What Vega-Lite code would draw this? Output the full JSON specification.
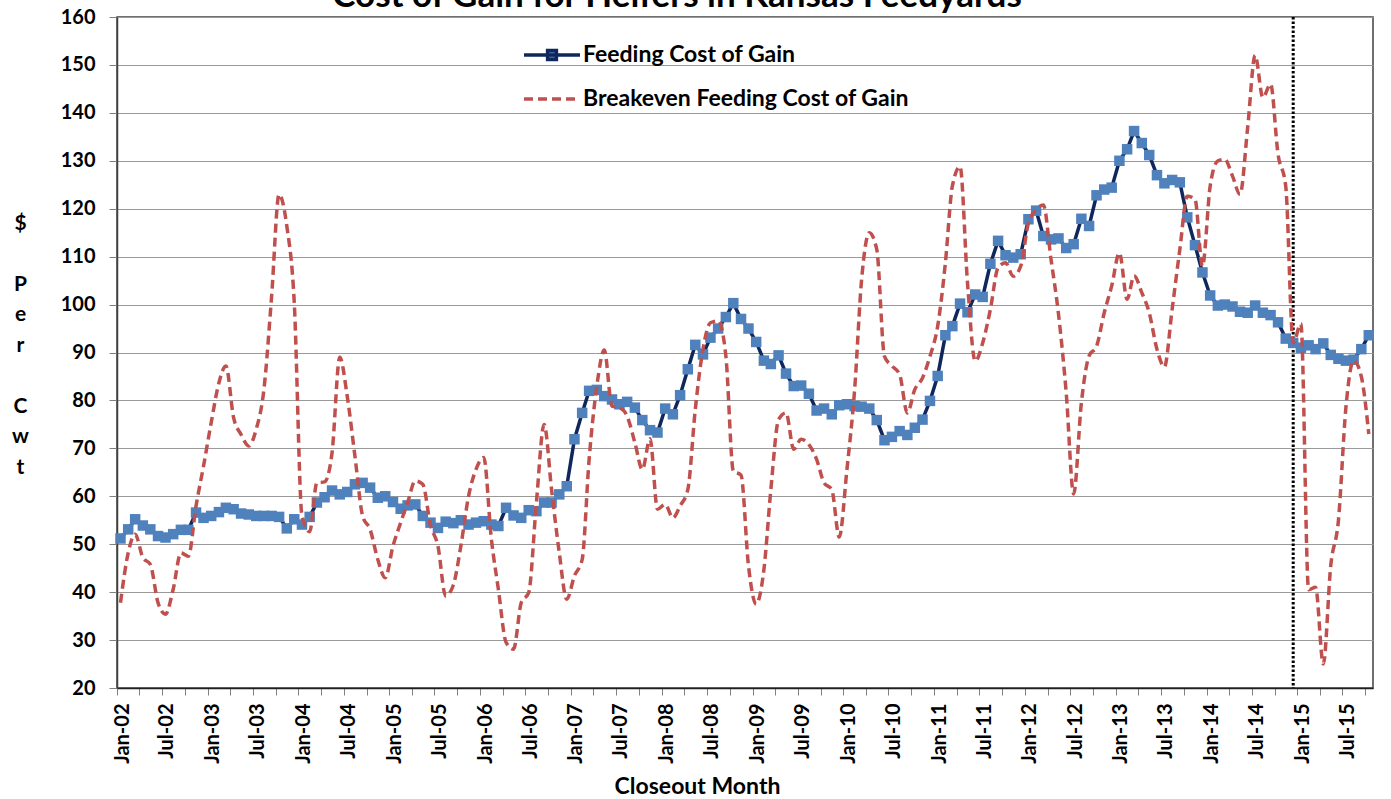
{
"$schema": "https://vega.github.io/schema/vega-lite/v6.json",
"width": 1256, "height": 671,
"autosize": {"type": "none"},
"padding": {"left": 117, "top": 17, "right": 18, "bottom": 111},
"background": "white",
"config": {"view": {"stroke": "#404040", "strokeWidth": 1.5}, "font": "Lato"},
"title": {"text": "Cost of Gain for Heifers in Kansas Feedyards", "font": "Lato", "fontSize": 35, "fontWeight": "bold", "color": "black", "anchor": "middle", "frame": "group", "dx": -68, "dy": 9, "offset": 2},
"data": {"values": [
{"d":"2002-01-15","f":51.2,"b":37.8},{"d":"2002-02-15","f":53.1,"b":48.2},{"d":"2002-03-15","f":55.2,"b":52.1},{"d":"2002-04-15","f":53.9,"b":47.2},{"d":"2002-05-15","f":53.1,"b":45.8},{"d":"2002-06-15","f":51.7,"b":37.8},{"d":"2002-07-15","f":51.4,"b":35.4},{"d":"2002-08-15","f":52.1,"b":40.6},{"d":"2002-09-15","f":53.0,"b":48.2},{"d":"2002-10-15","f":53.0,"b":47.5},{"d":"2002-11-15","f":56.6,"b":58.0},{"d":"2002-12-15","f":55.5,"b":66.3},
{"d":"2003-01-15","f":55.9,"b":75.4},{"d":"2003-02-15","f":56.7,"b":83.7},{"d":"2003-03-15","f":57.6,"b":87.2},{"d":"2003-04-15","f":57.3,"b":76.4},{"d":"2003-05-15","f":56.4,"b":72.9},{"d":"2003-06-15","f":56.2,"b":70.5},{"d":"2003-07-15","f":55.9,"b":74.0},{"d":"2003-08-15","f":55.9,"b":82.3},{"d":"2003-09-15","f":55.9,"b":101.8},{"d":"2003-10-15","f":55.7,"b":123.0},{"d":"2003-11-15","f":53.3,"b":116.4},{"d":"2003-12-15","f":55.2,"b":100.4},
{"d":"2004-01-15","f":54.1,"b":55.9},{"d":"2004-02-15","f":55.7,"b":52.6},{"d":"2004-03-15","f":58.7,"b":62.8},{"d":"2004-04-15","f":59.8,"b":63.0},{"d":"2004-05-15","f":61.2,"b":69.1},{"d":"2004-06-15","f":60.4,"b":89.0},{"d":"2004-07-15","f":60.9,"b":80.9},{"d":"2004-08-15","f":62.5,"b":68.4},{"d":"2004-09-15","f":62.8,"b":55.9},{"d":"2004-10-15","f":61.8,"b":53.1},{"d":"2004-11-15","f":59.7,"b":46.8},{"d":"2004-12-15","f":60.0,"b":43.0},
{"d":"2005-01-15","f":58.8,"b":49.6},{"d":"2005-02-15","f":57.4,"b":54.5},{"d":"2005-03-15","f":58.1,"b":58.7},{"d":"2005-04-15","f":58.3,"b":63.2},{"d":"2005-05-15","f":55.9,"b":62.5},{"d":"2005-06-15","f":54.5,"b":54.0},{"d":"2005-07-15","f":53.4,"b":49.6},{"d":"2005-08-15","f":54.7,"b":39.2},{"d":"2005-09-15","f":54.4,"b":41.5},{"d":"2005-10-15","f":55.0,"b":49.6},{"d":"2005-11-15","f":54.1,"b":60.0},{"d":"2005-12-15","f":54.5,"b":65.6},
{"d":"2006-01-15","f":54.8,"b":68.1},{"d":"2006-02-15","f":54.1,"b":51.0},{"d":"2006-03-15","f":53.8,"b":40.6},{"d":"2006-04-15","f":57.6,"b":29.5},{"d":"2006-05-15","f":56.0,"b":28.1},{"d":"2006-06-15","f":55.5,"b":37.8},{"d":"2006-07-15","f":57.1,"b":39.9},{"d":"2006-08-15","f":56.9,"b":58.7},{"d":"2006-09-15","f":58.7,"b":75.0},{"d":"2006-10-15","f":58.7,"b":61.4},{"d":"2006-11-15","f":60.4,"b":48.2},{"d":"2006-12-15","f":62.1,"b":38.5},
{"d":"2007-01-15","f":71.9,"b":43.4},{"d":"2007-02-15","f":77.4,"b":46.8},{"d":"2007-03-15","f":82.0,"b":67.7},{"d":"2007-04-15","f":82.2,"b":83.0},{"d":"2007-05-15","f":80.9,"b":90.5},{"d":"2007-06-15","f":80.2,"b":78.8},{"d":"2007-07-15","f":79.2,"b":78.5},{"d":"2007-08-15","f":79.7,"b":76.7},{"d":"2007-09-15","f":78.5,"b":71.2},{"d":"2007-10-15","f":75.9,"b":65.6},{"d":"2007-11-15","f":73.8,"b":72.0},{"d":"2007-12-15","f":73.3,"b":57.3},
{"d":"2008-01-15","f":78.3,"b":58.3},{"d":"2008-02-15","f":77.1,"b":55.5},{"d":"2008-03-15","f":81.1,"b":58.0},{"d":"2008-04-15","f":86.5,"b":61.4},{"d":"2008-05-15","f":91.6,"b":78.1},{"d":"2008-06-15","f":89.6,"b":90.7},{"d":"2008-07-15","f":93.1,"b":96.2},{"d":"2008-08-15","f":95.0,"b":96.6},{"d":"2008-09-15","f":97.4,"b":89.3},{"d":"2008-10-15","f":100.3,"b":65.3},{"d":"2008-11-15","f":97.0,"b":64.4},{"d":"2008-12-15","f":95.0,"b":45.5},
{"d":"2009-01-15","f":92.2,"b":37.5},{"d":"2009-02-15","f":88.3,"b":44.7},{"d":"2009-03-15","f":87.6,"b":61.4},{"d":"2009-04-15","f":89.4,"b":76.0},{"d":"2009-05-15","f":85.6,"b":77.4},{"d":"2009-06-15","f":83.0,"b":69.8},{"d":"2009-07-15","f":83.1,"b":71.9},{"d":"2009-08-15","f":81.4,"b":70.8},{"d":"2009-09-15","f":77.9,"b":67.7},{"d":"2009-10-15","f":78.3,"b":62.8},{"d":"2009-11-15","f":77.1,"b":61.4},{"d":"2009-12-15","f":79.0,"b":51.5},
{"d":"2010-01-15","f":79.2,"b":65.6},{"d":"2010-02-15","f":78.8,"b":82.3},{"d":"2010-03-15","f":78.7,"b":105.2},{"d":"2010-04-15","f":78.3,"b":115.0},{"d":"2010-05-15","f":75.9,"b":111.5},{"d":"2010-06-15","f":71.7,"b":89.2},{"d":"2010-07-15","f":72.4,"b":87.2},{"d":"2010-08-15","f":73.6,"b":85.4},{"d":"2010-09-15","f":72.8,"b":77.4},{"d":"2010-10-15","f":74.3,"b":82.3},{"d":"2010-11-15","f":76.0,"b":84.7},{"d":"2010-12-15","f":79.9,"b":89.2},
{"d":"2011-01-15","f":85.1,"b":95.5},{"d":"2011-02-15","f":93.6,"b":108.7},{"d":"2011-03-15","f":95.5,"b":124.7},{"d":"2011-04-15","f":100.2,"b":128.8},{"d":"2011-05-15","f":98.4,"b":104.5},{"d":"2011-06-15","f":102.1,"b":88.2},{"d":"2011-07-15","f":101.6,"b":92.0},{"d":"2011-08-15","f":108.5,"b":99.0},{"d":"2011-09-15","f":113.3,"b":107.7},{"d":"2011-10-15","f":110.3,"b":108.7},{"d":"2011-11-15","f":109.8,"b":105.9},{"d":"2011-12-15","f":110.5,"b":108.0},
{"d":"2012-01-15","f":117.8,"b":117.0},{"d":"2012-02-15","f":119.6,"b":119.8},{"d":"2012-03-15","f":114.3,"b":120.8},{"d":"2012-04-15","f":113.6,"b":109.4},{"d":"2012-05-15","f":113.8,"b":98.0},{"d":"2012-06-15","f":111.8,"b":81.6},{"d":"2012-07-15","f":112.6,"b":60.5},{"d":"2012-08-15","f":117.9,"b":79.5},{"d":"2012-09-15","f":116.4,"b":89.3},{"d":"2012-10-15","f":122.8,"b":91.3},{"d":"2012-11-15","f":124.0,"b":98.3},{"d":"2012-12-15","f":124.4,"b":103.9},
{"d":"2013-01-15","f":130.0,"b":110.8},{"d":"2013-02-15","f":132.4,"b":101.1},{"d":"2013-03-15","f":136.2,"b":106.0},{"d":"2013-04-15","f":133.7,"b":102.5},{"d":"2013-05-15","f":131.2,"b":98.3},{"d":"2013-06-15","f":127.0,"b":90.7},{"d":"2013-07-15","f":125.3,"b":87.0},{"d":"2013-08-15","f":126.0,"b":99.0},{"d":"2013-09-15","f":125.5,"b":111.5},{"d":"2013-10-15","f":118.2,"b":122.6},{"d":"2013-11-15","f":112.4,"b":122.0},{"d":"2013-12-15","f":106.7,"b":108.0},
{"d":"2014-01-15","f":101.9,"b":124.7},{"d":"2014-02-15","f":99.8,"b":130.0},{"d":"2014-03-15","f":100.0,"b":130.3},{"d":"2014-04-15","f":99.6,"b":126.8},{"d":"2014-05-15","f":98.5,"b":123.0},{"d":"2014-06-15","f":98.3,"b":137.0},{"d":"2014-07-15","f":99.8,"b":152.0},{"d":"2014-08-15","f":98.3,"b":143.2},{"d":"2014-09-15","f":97.8,"b":146.0},{"d":"2014-10-15","f":96.3,"b":131.4},{"d":"2014-11-15","f":92.9,"b":124.7},{"d":"2014-12-15","f":92.0,"b":92.0},
{"d":"2015-01-15","f":91.0,"b":96.0},{"d":"2015-02-15","f":91.5,"b":40.5},{"d":"2015-03-15","f":90.7,"b":41.0},{"d":"2015-04-15","f":91.9,"b":25.0},{"d":"2015-05-15","f":89.5,"b":45.5},{"d":"2015-06-15","f":88.7,"b":55.0},{"d":"2015-07-15","f":88.3,"b":78.5},{"d":"2015-08-15","f":88.5,"b":88.3},{"d":"2015-09-15","f":90.7,"b":85.0},{"d":"2015-10-15","f":93.6,"b":73.0}
]},
"encoding": {
  "x": {"field": "d", "type": "temporal",
    "scale": {"type": "utc", "nice": false, "domain": [{"year": 2002, "month": 1, "date": 1, "utc": true}, {"year": 2015, "month": 11, "date": 1, "utc": true}]},
    "axis": {"tickCount": {"interval": "month", "step": 3},
      "labelExpr": "utcmonth(datum.value) % 6 === 0 ? utcFormat(datum.value, '%b-%y') : ''",
      "labelAngle": 270, "labelAlign": "right", "labelBaseline": "middle",
      "labelFont": "Lato", "labelFontSize": 20, "labelFontWeight": "bold", "labelColor": "black",
      "labelPadding": 8, "labelOffset": 5, "labelOverlap": false, "labelFlush": false, "labelBound": false,
      "tickSize": 7, "tickColor": "#808080", "tickWidth": 1, "domainColor": "#202020", "domainWidth": 1.5, "grid": false,
      "title": "Closeout Month", "titleFont": "Lato", "titleFontSize": 23, "titleFontWeight": "bold", "titleColor": "black",
      "titleX": 580, "titleY": 105, "titleBaseline": "alphabetic", "titleAlign": "center"}
  },
  "y": {"type": "quantitative",
    "scale": {"domain": [20, 160], "nice": false, "zero": false},
    "axis": {"values": [20,30,40,50,60,70,80,90,100,110,120,130,140,150,160],
      "title": ["$", "\u200b", "P", "e", "r", "\u200b", "C", "w", "t"], "titleAngle": 0,
      "titleFont": "Lato", "titleFontSize": 21, "titleFontWeight": "bold", "titleColor": "black",
      "titleLineHeight": 30.5, "titleX": -97, "titleY": 195, "titleAlign": "center", "titleBaseline": "top",
      "labelFont": "Lato", "labelFontSize": 20, "labelFontWeight": "bold", "labelColor": "black", "labelPadding": 14,
      "tickSize": 8, "tickColor": "#808080", "domainColor": "#404040", "domainWidth": 1.5,
      "grid": true, "gridColor": "#9a9a9a", "gridWidth": 1}}
},
"layer": [
  {"data": {"values": [{"d": "2014-12-15"}]},
   "mark": {"type": "rule", "color": "black", "strokeWidth": 3, "strokeDash": [2.5, 2]},
   "encoding": {"y": null}},
  {"mark": {"type": "line", "strokeWidth": 3.5},
   "encoding": {
     "y": {"field": "f"},
     "color": {"datum": "Feeding Cost of Gain",
       "scale": {"domain": ["Feeding Cost of Gain", "Breakeven Feeding Cost of Gain"], "range": ["#10275C", "#C0504D"]},
       "legend": {"orient": "none", "legendX": 411, "legendY": 14, "title": null, "padding": 0,
         "direction": "vertical", "symbolType": "M-1.273,0H1.273", "symbolSize": 1936, "symbolStrokeWidth": 3.5,
         "labelFont": "Lato", "labelFontSize": 23, "labelFontWeight": "bold", "labelColor": "black",
         "labelOffset": 7, "labelLimit": 0, "rowPadding": 8,
         "encode": {"symbols": {"update": {
           "shape": {"signal": "datum.value === 'Feeding Cost of Gain' ? 'M-1.273,0H1.273M-0.2,-0.2H0.2V0.2H-0.2Z' : 'M-1.273,0H1.273'"},
           "fill": {"signal": "datum.value === 'Feeding Cost of Gain' ? '#4F81BD' : 'transparent'"},
           "strokeDash": {"signal": "datum.value === 'Feeding Cost of Gain' ? [1, 0] : [9, 5]"}}}}}}
   }},
  {"mark": {"type": "point", "shape": "square", "filled": true, "size": 110, "color": "#4F81BD", "opacity": 1},
   "encoding": {"y": {"field": "f"}}},
  {"mark": {"type": "line", "strokeWidth": 3.5, "strokeDash": [9, 5], "interpolate": "monotone"},
   "encoding": {
     "y": {"field": "b"},
     "color": {"datum": "Breakeven Feeding Cost of Gain"}}}
]
}
